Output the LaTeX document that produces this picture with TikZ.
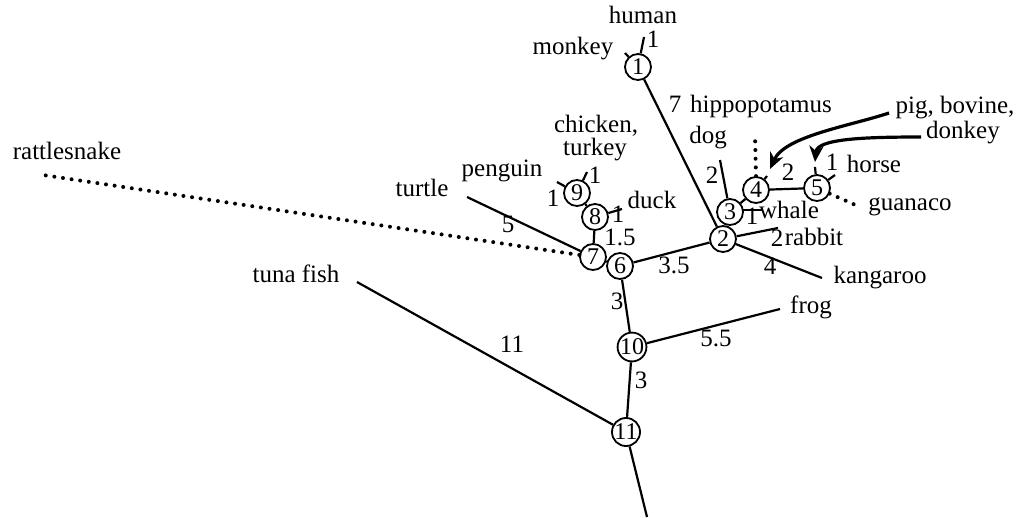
\documentclass[tikz,border=0pt]{standalone}
\usepackage{fontspec}
\setmainfont{Liberation Serif}
\usetikzlibrary{arrows.meta}
\begin{document}
\begin{tikzpicture}[x=1pt,y=-1pt,
  nd/.style={circle,draw,line width=1.8pt,minimum size=26pt,inner sep=0pt,font=\fontsize{24}{24}\selectfont},
  lbl/.style={inner sep=0pt,font=\fontsize{25}{28}\selectfont,text height=0.7em,text depth=0.2em},
  edge/.style={line width=2.2pt},
  dots/.style={line width=4pt,line cap=round,dash pattern=on 0pt off 8.7pt},
  fat/.style={line width=3.2pt,-{Stealth[length=16pt,width=14pt,inset=5pt]}}]
\useasboundingbox (0,0) rectangle (1025,517);
% internal nodes
\node[nd] (n1) at (638,67) {1};
\node[nd] (n2) at (723,239) {2};
\node[nd] (n3) at (730,212) {3};
\node[nd] (n4) at (756,190) {4};
\node[nd] (n5) at (817,188) {5};
\node[nd] (n6) at (620,266) {6};
\node[nd] (n7) at (593,257) {7};
\node[nd] (n8) at (595,217) {8};
\node[nd] (n9) at (577,193) {9};
\node[nd] (n10) at (632,347) {10};
\node[nd] (n11) at (626,432) {11};
% leaf ends
\coordinate (hu) at (644,37);
\coordinate (mo) at (625,53);
\coordinate (dg) at (720,160);
\coordinate (hp) at (755,136);
\coordinate (t4) at (767,176);
\coordinate (t5) at (815,167);
\coordinate (ho) at (835,175);
\coordinate (gu) at (860,207);
\coordinate (wh) at (762,210);
\coordinate (wa) at (743,210);
\coordinate (ra) at (778,228);
\coordinate (ka) at (822,278);
\coordinate (tu) at (467,197);
\coordinate (rs) at (43,175);
\coordinate (du) at (622,209);
\coordinate (pe) at (557,182);
\coordinate (ch) at (587,172);
\coordinate (fr) at (780,309);
\coordinate (tf) at (357,282);
\coordinate (rt) at (647,517);
\coordinate (pg) at (889,113);
\coordinate (dk) at (921,137);
\coordinate (a4) at (770,169);
\coordinate (a5) at (815,162);
% edges
\draw[edge] (n1) -- (hu);
\draw[edge] (n1) -- (mo);
\draw[edge] (n1) -- (n2);
\draw[edge] (n2) -- (n3);
\draw[edge] (n3) -- (dg);
\draw[edge] (n3) -- (n4);
\draw[dots] (n4.north) -- (hp);
\draw[edge] (n4) -- (t4);
\draw[edge] (n4) -- (n5);
\draw[edge] (n5) -- (t5);
\draw[edge] (n5) -- (ho);
\draw[dots] (n5) -- (gu);
\draw[edge] (wa) -- (wh);
\draw[edge] (n2) -- (ra);
\draw[edge] (n2) -- (ka);
\draw[edge] (n2) -- (n6);
\draw[edge] (n6) -- (n7);
\draw[edge] (n7) -- (tu);
\draw[dots] (n7) -- (rs);
\draw[edge] (n7) -- (n8);
\draw[edge] (n8) -- (du);
\draw[edge] (n8) -- (n9);
\draw[edge] (n9) -- (pe);
\draw[edge] (n9) -- (ch);
\draw[edge] (n6) -- (n10);
\draw[edge] (n10) -- (fr);
\draw[edge] (n10) -- (n11);
\draw[edge] (n11) -- (tf);
\draw[edge] (n11) -- (rt);
\draw[fat] (pg) .. controls (850,126) and (785,136) .. (a4);
\draw[fat] (dk) .. controls (862,137) and (817,139) .. (a5);
% taxa
\node[lbl] (thu) at (643,21) {human};
\node[lbl] (tmo) at (573,52) {monkey};
\node[lbl] (thp) at (761,110) {hippopotamus};
\node[lbl] (tdg) at (708,141) {dog};
\node[lbl] (tpg) at (955,111) {pig, bovine,};
\node[lbl] (tdk) at (963,136) {donkey};
\node[lbl] (tho) at (874,170) {horse};
\node[lbl] (tgu) at (910,208) {guanaco};
\node[lbl] (twh) at (789,216) {whale};
\node[lbl] (tra) at (814,243) {rabbit};
\node[lbl] (tka) at (880,281) {kangaroo};
\node[lbl] (tfr) at (811,311) {frog};
\node[lbl] (ttf) at (296,280) {tuna fish};
\node[lbl] (ttu) at (422,194) {turtle};
\node[lbl] (trs) at (67,157) {rattlesnake};
\node[lbl] (tpe) at (502,174) {penguin};
\node[lbl] (tdu) at (652,206) {duck};
\node[lbl] (tc1) at (596,130) {chicken,};
\node[lbl] (tc2) at (595,153) {turkey};
% branch lengths
\node[lbl] (l1) at (653,45) {1};
\node[lbl] (l7) at (675,110) {7};
\node[lbl] (l2a) at (712,181) {2};
\node[lbl] (l2b) at (788,178) {2};
\node[lbl] (l1h) at (832,168) {1};
\node[lbl] (l1w) at (752,222) {1};
\node[lbl] (l2r) at (777,244) {2};
\node[lbl] (l4) at (770,272) {4};
\node[lbl] (l35) at (674,271) {3.5};
\node[lbl] (l5) at (508,230) {5};
\node[lbl] (l15) at (620,243) {1.5};
\node[lbl] (l1d) at (618,220) {1};
\node[lbl] (l1p) at (553,204) {1};
\node[lbl] (l1c) at (595,181) {1};
\node[lbl] (l3a) at (617,307) {3};
\node[lbl] (l55) at (716,344) {5.5};
\node[lbl] (l3b) at (641,386) {3};
\node[lbl] (l11) at (512,350) {11};
\end{tikzpicture}
\end{document}
